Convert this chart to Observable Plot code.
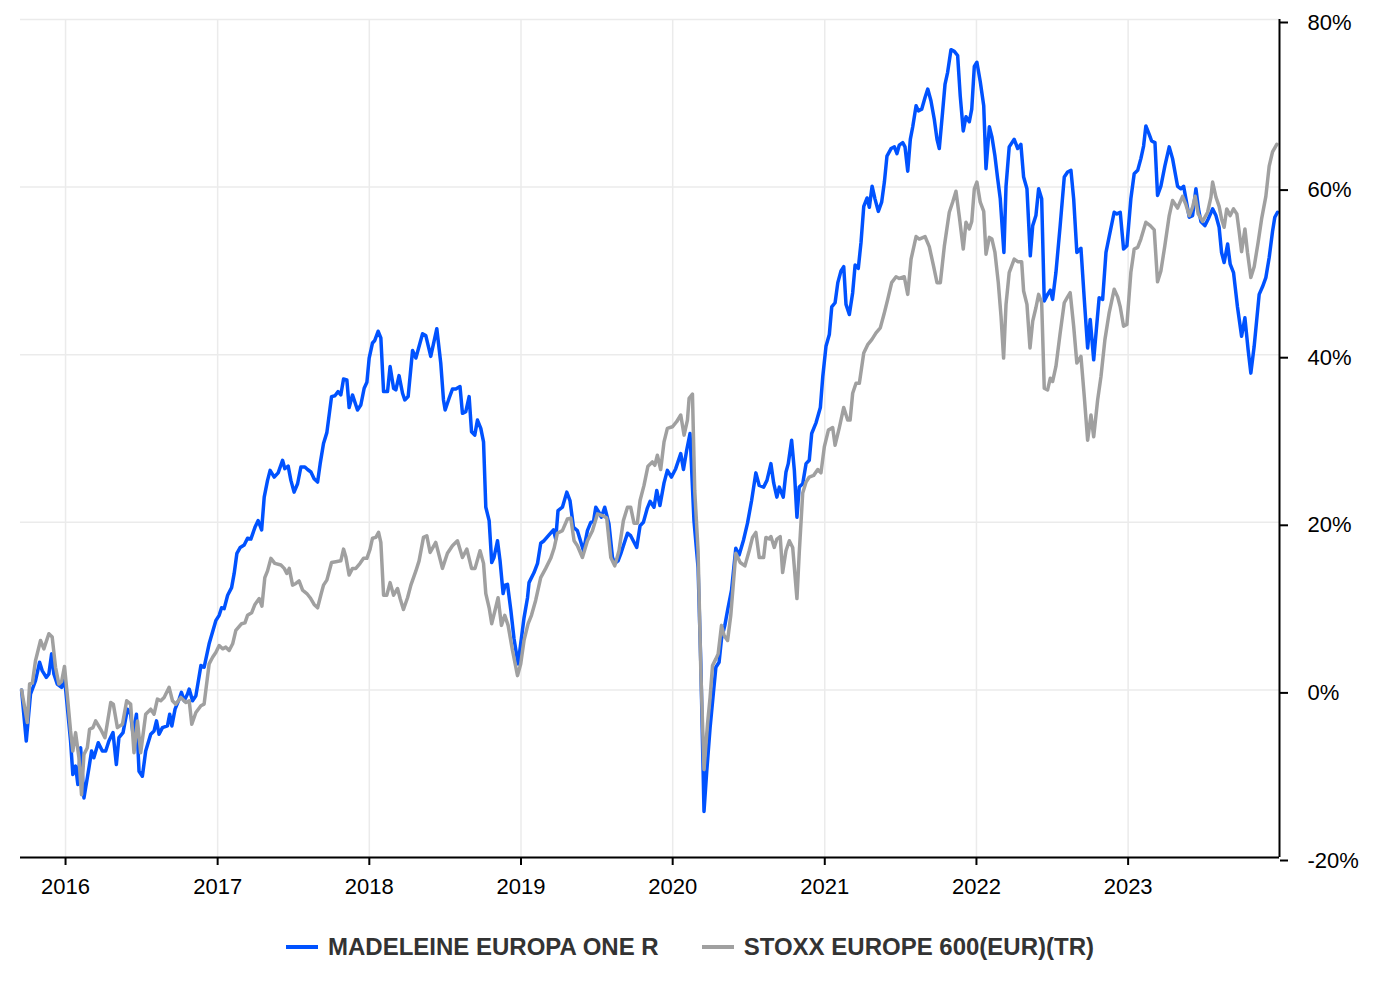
<!DOCTYPE html>
<html>
<head>
<meta charset="utf-8">
<script src="https://cdn.jsdelivr.net/npm/d3@7"></script>
<script src="https://cdn.jsdelivr.net/npm/@observablehq/plot@0.6"></script>
<style>
  body { margin: 0; background: #fff; font-family: "Liberation Sans", Arial, sans-serif; }
  #legend { display: flex; justify-content: center; align-items: center; width: 1380px; height: 74px; }
  .item { display: flex; align-items: center; font-weight: bold; font-size: 24px; color: #333; white-space: nowrap; }
  .item + .item { margin-left: 43px; }
  .sw { width: 32px; height: 4px; margin-right: 10px; }
</style>
</head>
<body>
<div id="chart"></div>
<div id="legend"></div>
<script>
// ---- Data (time as decimal years, values in % performance) ----
const seriesNames = ["MADELEINE EUROPA ONE R", "STOXX EUROPE 600(EUR)(TR)"];
const seriesColors = ["#0052ff", "#a0a0a0"];

const madT = [2015.710,2015.741,2015.769,2015.802,2015.829,2015.846,2015.873,2015.890,2015.908,2015.923,2015.945,2015.974,2015.989,2016.000,
2016.033,2016.048,2016.066,2016.081,2016.099,2016.121,2016.154,2016.171,2016.186,2016.215,2016.242,2016.264,2016.285,2016.312,2016.334,2016.351,
2016.378,2016.407,2016.428,2016.444,2016.466,2016.483,2016.505,2016.527,2016.560,2016.582,2016.598,2016.615,2016.637,2016.670,2016.685,2016.699,
2016.720,2016.747,2016.762,2016.780,2016.802,2016.813,2016.835,2016.857,2016.890,2016.911,2016.944,2016.989,2017.010,2017.026,2017.043,2017.066,
2017.092,2017.109,2017.127,2017.149,2017.175,2017.197,2017.219,2017.246,2017.267,2017.290,2017.307,2017.329,2017.346,2017.373,2017.399,2017.428,
2017.443,2017.465,2017.483,2017.504,2017.527,2017.549,2017.575,2017.593,2017.615,2017.636,2017.659,2017.676,2017.698,2017.720,2017.751,2017.773,
2017.794,2017.812,2017.830,2017.852,2017.867,2017.889,2017.922,2017.944,2017.966,2017.984,2017.999,2018.021,2018.036,2018.058,2018.076,2018.094,
2018.120,2018.137,2018.160,2018.175,2018.196,2018.219,2018.234,2018.256,2018.285,2018.307,2018.351,2018.372,2018.405,2018.445,2018.471,2018.489,
2018.500,2018.526,2018.548,2018.570,2018.598,2018.614,2018.636,2018.658,2018.674,2018.695,2018.713,2018.735,2018.753,2018.768,2018.790,2018.807,
2018.822,2018.845,2018.862,2018.882,2018.895,2018.911,2018.933,2018.954,2018.981,2018.998,2019.020,2019.043,2019.053,2019.086,2019.109,2019.130,
2019.152,2019.185,2019.214,2019.229,2019.244,2019.273,2019.302,2019.323,2019.346,2019.372,2019.412,2019.438,2019.460,2019.478,2019.493,2019.514,
2019.530,2019.552,2019.580,2019.603,2019.618,2019.640,2019.657,2019.702,2019.723,2019.763,2019.785,2019.807,2019.833,2019.851,2019.877,2019.895,
2019.916,2019.943,2019.965,2019.992,2020.020,2020.053,2020.071,2020.092,2020.114,2020.140,2020.167,2020.185,2020.206,2020.224,2020.246,2020.268,
2020.284,2020.305,2020.321,2020.343,2020.361,2020.387,2020.415,2020.437,2020.466,2020.492,2020.519,2020.547,2020.569,2020.598,2020.620,2020.646,
2020.664,2020.685,2020.701,2020.727,2020.745,2020.760,2020.782,2020.800,2020.817,2020.832,2020.855,2020.877,2020.898,2020.914,2020.943,2020.971,
2020.987,2021.008,2021.030,2021.046,2021.068,2021.086,2021.107,2021.125,2021.140,2021.162,2021.184,2021.200,2021.221,2021.239,2021.257,2021.279,
2021.294,2021.312,2021.331,2021.353,2021.375,2021.393,2021.410,2021.437,2021.459,2021.476,2021.491,2021.514,2021.529,2021.547,2021.564,2021.580,
2021.602,2021.617,2021.639,2021.661,2021.679,2021.700,2021.722,2021.740,2021.755,2021.777,2021.793,2021.810,2021.832,2021.854,2021.876,2021.893,
2021.913,2021.931,2021.953,2021.969,2021.986,2022.003,2022.025,2022.048,2022.063,2022.085,2022.102,2022.122,2022.140,2022.157,2022.181,2022.195,
2022.216,2022.249,2022.272,2022.293,2022.311,2022.333,2022.355,2022.371,2022.392,2022.410,2022.430,2022.447,2022.469,2022.487,2022.502,2022.524,
2022.552,2022.579,2022.601,2022.623,2022.641,2022.662,2022.689,2022.711,2022.733,2022.750,2022.773,2022.809,2022.832,2022.854,2022.875,2022.908,
2022.926,2022.948,2022.970,2022.992,2023.018,2023.040,2023.063,2023.084,2023.102,2023.117,2023.139,2023.155,2023.177,2023.194,2023.216,2023.242,
2023.271,2023.293,2023.326,2023.348,2023.366,2023.381,2023.403,2023.425,2023.447,2023.464,2023.480,2023.506,2023.528,2023.557,2023.579,2023.600,
2023.616,2023.633,2023.656,2023.673,2023.695,2023.721,2023.748,2023.770,2023.791,2023.809,2023.831,2023.864,2023.886,2023.908,2023.930,2023.952,
2023.967,2023.985];
const madV = [0,-6.1,-0.5,1.1,3.3,2.3,1.5,1.9,4.3,1.9,0.7,0.3,1.2,0.2,
-6.1,-10.1,-9.1,-11.3,-6.9,-12.9,-9.3,-7.3,-8.1,-6.3,-7.3,-7.3,-6.1,-5.1,-8.9,-5.7,
-5.1,-2.3,-2.9,-5.3,-2.9,-9.7,-10.3,-7.3,-5.3,-4.9,-3.7,-5.3,-4.5,-4.3,-2.9,-4.3,
-2.3,-1.1,-0.3,-1.3,-0.5,0.1,-1.3,-0.7,2.9,2.7,5.5,8.3,8.9,9.8,9.7,11.3,
12.2,13.9,16.3,17.0,17.3,18.1,18.0,19.4,20.2,19.1,23.0,25.0,26.2,25.4,25.9,27.4,
26.4,26.7,25.0,23.6,24.6,26.6,26.6,26.3,26.0,25.2,24.8,27.0,29.4,30.7,35.0,35.1,
35.6,35.2,37.1,37.0,33.7,35.2,33.4,34.0,36.0,36.7,39.6,41.4,41.7,42.8,42.0,35.6,
35.6,38.6,36.0,35.8,37.5,35.4,34.6,35.0,40.5,39.6,42.5,42.3,39.8,43.1,39.0,34.6,
33.4,34.8,35.9,35.9,36.2,33.0,33.2,35.0,30.8,30.4,32.2,31.2,29.6,21.8,20.2,15.2,
15.8,17.8,15.4,11.5,12.5,12.6,9.5,6.1,3.1,5.5,8.6,11.0,12.8,14.0,15.1,17.5,
17.8,18.5,19.1,18.0,21.4,21.8,23.6,22.6,19.4,19.0,16.6,19.0,20.0,20.1,21.8,21.2,
20.6,21.8,19.8,15.8,15.1,15.4,16.2,18.7,18.4,17.0,19.6,20.0,21.7,22.5,21.8,23.8,
22.0,24.7,26.2,25.4,26.4,28.2,26.3,28.6,30.6,20.2,14.6,3.1,-14.5,-9.7,-4.5,-0.3,
2.7,3.3,6.1,7.7,9.5,11.9,16.9,16.1,17.9,19.9,22.6,25.9,24.4,24.2,25.0,27.0,
24.7,23.0,24.2,23.0,26.0,27.0,29.8,26.2,20.6,24.2,24.6,27.0,27.4,30.6,31.9,33.7,
37.4,41.0,42.4,45.7,46.2,48.6,50.0,50.5,46.0,44.8,47.4,50.7,50.3,53.4,57.7,58.7,
57.6,60.1,58.6,57.1,58.2,60.6,63.7,64.6,64.8,64.0,65.0,65.3,64.8,61.9,65.7,67.2,
69.7,69.1,69.3,70.7,71.7,70.3,68.1,65.7,64.6,69.0,72.3,73.7,76.4,76.2,75.7,70.9,
66.7,68.4,67.8,69.3,74.4,74.9,72.6,69.7,62.2,67.2,66.0,63.7,61.0,58.6,52.2,60.1,
64.8,65.7,64.6,65.1,61.2,59.8,51.8,55.4,56.6,59.8,58.6,46.4,47.2,47.7,46.6,49.8,
55.4,61.2,61.8,62.0,58.6,52.2,52.7,46.6,40.8,44.2,39.4,46.8,46.6,52.2,54.1,57.0,
56.8,57.0,52.6,53.0,58.6,61.6,62.0,63.4,64.9,67.3,66.3,65.5,65.3,59.0,60.1,62.5,
64.8,63.4,60.1,59.8,60.1,58.6,56.4,56.6,59.8,57.4,55.9,55.4,56.2,57.4,56.6,55.2,
52.2,51.0,53.2,50.8,49.8,45.7,42.2,44.4,40.6,37.8,41.0,47.2,48.1,49.2,51.6,54.7,
56.4,57.0];

const stoxxT = [2015.710,2015.748,2015.763,2015.781,2015.802,2015.835,2015.857,2015.890,2015.912,2015.934,2015.956,2015.974,2015.993,2016.011,
2016.033,2016.048,2016.066,2016.088,2016.105,2016.121,2016.143,2016.158,2016.180,2016.198,2016.231,2016.259,2016.297,2016.314,2016.341,2016.374,
2016.402,2016.428,2016.450,2016.473,2016.494,2016.527,2016.560,2016.582,2016.604,2016.626,2016.648,2016.681,2016.703,2016.725,2016.758,2016.791,
2016.813,2016.830,2016.857,2016.890,2016.911,2016.944,2016.967,2016.989,2017.010,2017.033,2017.054,2017.076,2017.099,2017.120,2017.158,2017.180,
2017.197,2017.224,2017.246,2017.274,2017.292,2017.311,2017.329,2017.351,2017.377,2017.417,2017.439,2017.456,2017.472,2017.494,2017.516,2017.537,
2017.560,2017.588,2017.610,2017.636,2017.659,2017.680,2017.698,2017.720,2017.751,2017.779,2017.812,2017.830,2017.845,2017.867,2017.889,2017.911,
2017.939,2017.962,2017.984,2018.005,2018.021,2018.043,2018.061,2018.076,2018.094,2018.115,2018.137,2018.160,2018.186,2018.203,2018.225,2018.252,
2018.274,2018.307,2018.328,2018.357,2018.379,2018.401,2018.438,2018.482,2018.515,2018.548,2018.581,2018.614,2018.643,2018.674,2018.697,2018.730,
2018.753,2018.768,2018.790,2018.807,2018.829,2018.849,2018.871,2018.893,2018.915,2018.944,2018.977,2018.998,2019.020,2019.047,2019.069,2019.097,
2019.130,2019.163,2019.196,2019.218,2019.240,2019.273,2019.306,2019.328,2019.350,2019.372,2019.405,2019.438,2019.471,2019.504,2019.537,2019.565,
2019.592,2019.618,2019.646,2019.675,2019.702,2019.723,2019.745,2019.767,2019.785,2019.811,2019.837,2019.866,2019.882,2019.899,2019.921,2019.943,
2019.965,2019.998,2020.026,2020.053,2020.075,2020.097,2020.108,2020.130,2020.145,2020.167,2020.185,2020.206,2020.229,2020.246,2020.262,2020.284,
2020.299,2020.321,2020.338,2020.361,2020.382,2020.415,2020.444,2020.475,2020.503,2020.525,2020.547,2020.569,2020.598,2020.613,2020.635,2020.646,
2020.668,2020.685,2020.707,2020.723,2020.745,2020.767,2020.789,2020.817,2020.832,2020.855,2020.877,2020.898,2020.927,2020.954,2020.975,2020.997,
2021.024,2021.052,2021.068,2021.096,2021.125,2021.151,2021.167,2021.184,2021.206,2021.228,2021.257,2021.283,2021.310,2021.338,2021.366,2021.393,
2021.415,2021.441,2021.470,2021.491,2021.524,2021.547,2021.569,2021.602,2021.623,2021.661,2021.689,2021.718,2021.740,2021.762,2021.788,2021.821,
2021.843,2021.865,2021.887,2021.913,2021.931,2021.953,2021.969,2021.986,2022.003,2022.025,2022.048,2022.063,2022.085,2022.102,2022.122,2022.144,
2022.162,2022.179,2022.195,2022.216,2022.249,2022.272,2022.298,2022.311,2022.333,2022.353,2022.371,2022.392,2022.410,2022.430,2022.447,2022.469,
2022.487,2022.502,2022.524,2022.552,2022.579,2022.601,2022.618,2022.641,2022.662,2022.689,2022.711,2022.733,2022.755,2022.773,2022.799,2022.821,
2022.847,2022.875,2022.908,2022.931,2022.948,2022.970,2022.992,2023.018,2023.040,2023.063,2023.084,2023.117,2023.146,2023.172,2023.194,2023.216,
2023.242,2023.271,2023.293,2023.326,2023.359,2023.381,2023.403,2023.425,2023.442,2023.462,2023.491,2023.524,2023.546,2023.557,2023.579,2023.600,
2023.616,2023.633,2023.650,2023.673,2023.695,2023.717,2023.732,2023.748,2023.770,2023.787,2023.809,2023.831,2023.857,2023.880,2023.908,2023.930,
2023.952,2023.980];
const stoxxV = [0,-3.9,0.7,0.8,3.5,5.9,4.9,6.7,6.3,2.7,0.7,1.0,2.8,-0.5,
-4.9,-7.3,-5.1,-8.1,-12.5,-7.7,-6.9,-4.7,-4.5,-3.7,-4.7,-5.7,-1.5,-1.7,-4.5,-4.1,
-1.3,-1.7,-7.5,-3.7,-7.5,-2.9,-2.3,-2.9,-1.1,-1.3,-0.9,0.3,-1.3,-1.7,-0.9,-1.5,
-1.3,-4.1,-2.7,-1.9,-1.7,3.1,3.9,4.5,5.3,4.9,5.1,4.7,5.5,7.1,7.9,8.0,
8.9,9.2,10.2,10.9,10.0,13.4,14.2,15.7,15.1,14.9,14.5,13.9,14.5,12.5,12.7,13.0,
11.9,11.5,11.0,10.2,9.8,11.3,12.5,13.1,15.2,15.3,15.4,16.8,15.9,13.7,14.5,14.5,
15.1,15.7,15.7,16.8,18.1,18.2,18.8,17.6,11.3,11.3,12.8,11.3,12.1,10.9,9.6,11.0,
12.5,14.2,15.4,18.2,18.4,16.4,17.6,14.5,16.3,17.2,17.8,15.8,16.8,14.5,14.5,16.6,
15.1,11.5,9.8,7.9,9.5,11.0,7.7,8.9,7.7,4.7,1.7,3.1,5.9,7.9,8.9,10.7,
13.4,14.5,15.7,16.9,18.7,19.0,20.4,20.5,17.8,17.2,15.8,17.8,19.0,21.0,20.8,20.5,
15.8,14.8,16.6,20.2,21.8,21.8,19.9,19.9,22.6,24.4,26.7,27.2,26.8,28.0,26.3,29.6,
31.2,31.4,32.0,32.8,30.4,32.2,34.8,35.3,23.8,16.6,2.3,-9.5,-4.1,-0.9,2.9,3.7,
4.3,7.7,6.5,5.9,8.9,16.3,15.2,14.8,16.6,18.2,18.8,15.8,15.8,18.2,18.0,18.3,
17.0,18.0,18.3,14.0,16.6,17.8,17.0,10.9,16.3,23.5,24.8,25.4,25.6,26.3,25.9,29.0,
31.0,31.3,29.2,31.3,33.7,32.2,32.2,35.4,36.6,36.6,40.2,41.2,41.8,42.6,43.2,45.0,
46.6,48.6,49.3,49.1,49.3,47.2,51.4,54.1,53.8,54.1,52.9,50.5,48.6,48.6,52.9,57.0,
58.2,59.5,56.5,52.6,55.8,55.0,55.9,59.8,60.6,58.2,57.1,52.0,54.0,53.8,52.2,48.6,
44.6,39.6,46.0,49.8,51.4,51.1,51.1,47.6,46.0,40.8,44.0,45.6,47.2,46.2,36.0,35.8,
37.2,36.8,38.6,42.6,46.2,46.9,47.4,43.4,39.0,39.8,35.0,29.8,32.8,30.2,34.6,37.4,
41.8,45.0,47.8,46.9,45.7,43.4,43.6,49.8,52.6,52.8,53.8,55.8,55.4,54.9,48.7,50.0,
53.0,56.6,58.4,57.5,58.9,57.9,56.6,57.6,58.9,56.8,55.9,57.0,58.8,60.6,58.8,57.7,
56.2,55.2,57.4,56.6,57.4,56.8,54.7,52.3,55.0,52.2,49.2,50.5,53.4,56.2,58.9,62.5,
64.2,65.1];

const xDomainT = [2015.703, 2023.998];
const yearTicks = [2016, 2017, 2018, 2019, 2020, 2021, 2022, 2023];
const yTicks = [-20, 0, 20, 40, 60, 80];

// ---- helpers ----
function toDate(t) {
  const y = Math.floor(t);
  const a = Date.UTC(y, 0, 1), b = Date.UTC(y + 1, 0, 1);
  return new Date(a + (t - y) * (b - a));
}
const mad = madT.map((t, i) => ({date: toDate(t), value: madV[i]}));
const stoxx = stoxxT.map((t, i) => ({date: toDate(t), value: stoxxV[i]}));
const xDomain = xDomainT.map(toDate);
const yearDates = yearTicks.map(y => new Date(Date.UTC(y, 0, 1)));

const chart = Plot.plot({
  width: 1380,
  height: 910,
  marginTop: 19,
  marginBottom: 53,
  marginLeft: 20,
  marginRight: 101,
  style: {fontFamily: '"Liberation Sans", Arial, sans-serif', fontSize: "22px", color: "#000", background: "#fff", overflow: "visible"},
  x: {type: "utc", domain: xDomain, label: null},
  y: {domain: [yTicks[0], yTicks[yTicks.length - 1]], label: null},
  marks: [
    Plot.gridX(yearDates, {stroke: "#ebebeb", strokeOpacity: 1, strokeWidth: 1.5}),
    Plot.gridY(yTicks, {stroke: "#ebebeb", strokeOpacity: 1, strokeWidth: 1.5}),
    Plot.line(mad, {x: "date", y: "value", stroke: seriesColors[0], strokeWidth: 3.5}),
    Plot.line(stoxx, {x: "date", y: "value", stroke: seriesColors[1], strokeWidth: 3.5}),
    Plot.ruleY([yTicks[0]], {stroke: "#000", strokeWidth: 2}),
    Plot.ruleX([xDomain[1]], {stroke: "#000", strokeWidth: 2}),
    Plot.axisX(yearDates, {tickSize: 8, tickPadding: 13, strokeWidth: 2, fontSize: 22, tickFormat: d => String(d.getUTCFullYear()), label: null}),
    Plot.axisY(yTicks, {anchor: "right", tickSize: 8, tickPadding: 20, strokeWidth: 2, fontSize: 22, dy: 3, tickFormat: d => `${d}%`, label: null})
  ]
});
document.getElementById("chart").appendChild(chart);

const legend = document.getElementById("legend");
seriesNames.forEach((name, i) => {
  const item = document.createElement("div");
  item.className = "item";
  const sw = document.createElement("span");
  sw.className = "sw";
  sw.style.background = seriesColors[i];
  const label = document.createElement("span");
  label.textContent = name;
  item.appendChild(sw);
  item.appendChild(label);
  legend.appendChild(item);
});
</script>
</body>
</html>
